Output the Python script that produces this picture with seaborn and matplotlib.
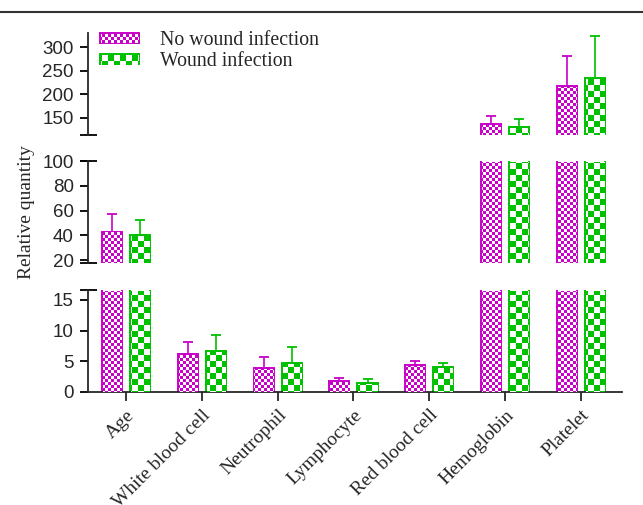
import numpy as np
import pandas as pd
import matplotlib
matplotlib.use("Agg")
import matplotlib.pyplot as plt
import matplotlib.patches as mpatches
from matplotlib.lines import Line2D
from matplotlib.transforms import Bbox
import seaborn as sns

# ---------------- data ----------------
categories = ["Age", "White blood cell", "Neutrophil", "Lymphocyte",
              "Red blood cell", "Hemoglobin", "Platelet"]
groups = ["No wound infection", "Wound infection"]
no_inf_mean = [43, 6.2, 3.9, 1.8, 4.4, 137, 218]
no_inf_sd = [14, 2.0, 1.8, 0.5, 0.6, 18, 63]
inf_mean = [40, 6.7, 4.7, 1.5, 4.1, 130, 234]
inf_sd = [12, 2.6, 2.6, 0.6, 0.6, 17, 90]

top_ticks = [150, 200, 250, 300]
mid_ticks = [20, 40, 60, 80, 100]
low_ticks = [0, 5, 10, 15]

# ---------------- style ----------------
MAGENTA = "#C800C8"
GREEN = "#00C000"
palette = {groups[0]: MAGENTA, groups[1]: GREEN}
checker_size = {groups[0]: 3, groups[1]: 6}
means = {groups[0]: no_inf_mean, groups[1]: inf_mean}
sds = {groups[0]: no_inf_sd, groups[1]: inf_sd}

sns.set_style("ticks")
plt.rcParams["font.family"] = ["Liberation Sans", "DejaVu Sans"]
SERIF = ["Liberation Serif", "DejaVu Serif"]

df = pd.DataFrame({
    "category": categories * 2,
    "group": [groups[0]] * len(categories) + [groups[1]] * len(categories),
    "value": no_inf_mean + inf_mean,
})

W, H = 643, 505
fig = plt.figure(figsize=(W / 100, H / 100), dpi=100)

left = 88 / W
width = 534 / W
ph = 102 / H
ax_top = fig.add_axes([left, (H - 135) / H, width, ph])
ax_mid = fig.add_axes([left, (H - 263) / H, width, ph])
ax_low = fig.add_axes([left, (H - 392) / H, width, ph])

panels = [
    (ax_top, (114, 330), top_ticks),
    (ax_mid, (17.6, 100), mid_ticks),
    (ax_low, (0, 16.63), low_ticks),
]

LW = 1.3
for ax, ylim, ticks in panels:
    sns.barplot(data=df, x="category", y="value", hue="group",
                hue_order=groups, order=categories, palette=palette,
                width=0.74, gap=0.286, errorbar=None, legend=False,
                linewidth=1.4, ax=ax)
    # white face, coloured outline (pattern added later)
    for g, cont in zip(groups, ax.containers):
        for bar in cont:
            bar.set_facecolor("white")
            bar.set_edgecolor(palette[g])
            bar.set_linewidth(1.4)
        xs = [b.get_x() + b.get_width() / 2 for b in cont]
        idx = [int(round(x)) for x in xs]
        m = [means[g][i] for i in idx]
        s = [sds[g][i] for i in idx]
        ax.errorbar(xs, m, yerr=[np.zeros(len(s)), s], fmt="none",
                    ecolor=palette[g], elinewidth=1.2, capsize=3.6,
                    capthick=1.3, zorder=3)
    ax.set_ylim(*ylim)
    ax.set_xlim(-0.5, 6.54)
    ax.set_yticks(ticks)
    ax.set_ylabel("")
    ax.set_xlabel("")
    for sp in ["top", "right"]:
        ax.spines[sp].set_visible(False)
    ax.spines["left"].set_linewidth(LW)
    ax.spines["bottom"].set_linewidth(LW)
    ax.tick_params(axis="y", length=5.8, width=LW, labelsize=13.5, pad=4.5,
                   color="black")
    ax.patch.set_alpha(0)

for ax in (ax_top, ax_mid):
    ax.spines["bottom"].set_visible(False)
    ax.tick_params(axis="x", bottom=False, labelbottom=False)

ax_low.tick_params(axis="x", length=6.5, width=LW, pad=4)
ax_low.set_xticks(range(len(categories)))
ax_low.set_xticklabels(categories, rotation=45, ha="right",
                       rotation_mode="anchor", family=SERIF, fontsize=14)

# break caps on the left spine
cap = 8.5 / 534
def hcap(ax, y):
    ax.plot([-cap, cap], [y, y], transform=ax.transAxes, color="black",
            lw=LW, clip_on=False, solid_capstyle="butt")
hcap(ax_top, 0)
hcap(ax_mid, 1)
hcap(ax_mid, 0)
hcap(ax_low, 1)

ax_mid.set_ylabel("Relative quantity", family=SERIF, fontsize=14)
ax_mid.yaxis.set_label_coords(-0.10, 0.5)

# legend
handles = [mpatches.Patch(facecolor="white", edgecolor=palette[g],
                          linewidth=1.4, label=g) for g in groups]
leg = ax_top.legend(handles=handles, loc="upper left",
                    bbox_to_anchor=(100 / W, 1 - 31 / H),
                    bbox_transform=fig.transFigure, frameon=False,
                    prop={"family": SERIF, "size": 14.3}, borderpad=0,
                    borderaxespad=0, labelspacing=0.12, handlelength=1.95,
                    handleheight=0.42, handletextpad=1.05)

# top rule
fig.add_artist(Line2D([0, 1], [1 - 12 / H] * 2, transform=fig.transFigure,
                      color="#333333", lw=1.5))

# ---------------- checker pattern fills ----------------
fig.canvas.draw()
renderer = fig.canvas.get_renderer()

def checker(color, s):
    rgb = np.array(matplotlib.colors.to_rgb(color))
    yy, xx = np.mgrid[0:H, 0:W]
    mask = ((xx // s) + (yy // s)) % 2 == 0
    arr = np.ones((H, W, 4))
    arr[mask, :3] = rgb
    return arr

patterns = {g: checker(palette[g], checker_size[g]) for g in groups}
shrink = 0.9

def add_fill(bb, g):
    bb = Bbox.from_extents(bb.x0 + shrink, bb.y0 + shrink,
                           bb.x1 - shrink, bb.y1 - shrink)
    if bb.width <= 0 or bb.height <= 0:
        return
    im = fig.figimage(patterns[g], 0, 0, origin="lower")
    im.set_clip_box(bb)
    im.set_clip_on(True)

for ax, _, _ in panels:
    for g, cont in zip(groups, ax.containers):
        for bar in cont:
            bb = bar.get_window_extent(renderer)
            inter = Bbox.intersection(bb, ax.bbox)
            if inter is None:
                continue
            add_fill(inter, g)

for g, p in zip(groups, leg.get_patches()):
    add_fill(p.get_window_extent(renderer), g)

fig.savefig("out.png", dpi=100)
